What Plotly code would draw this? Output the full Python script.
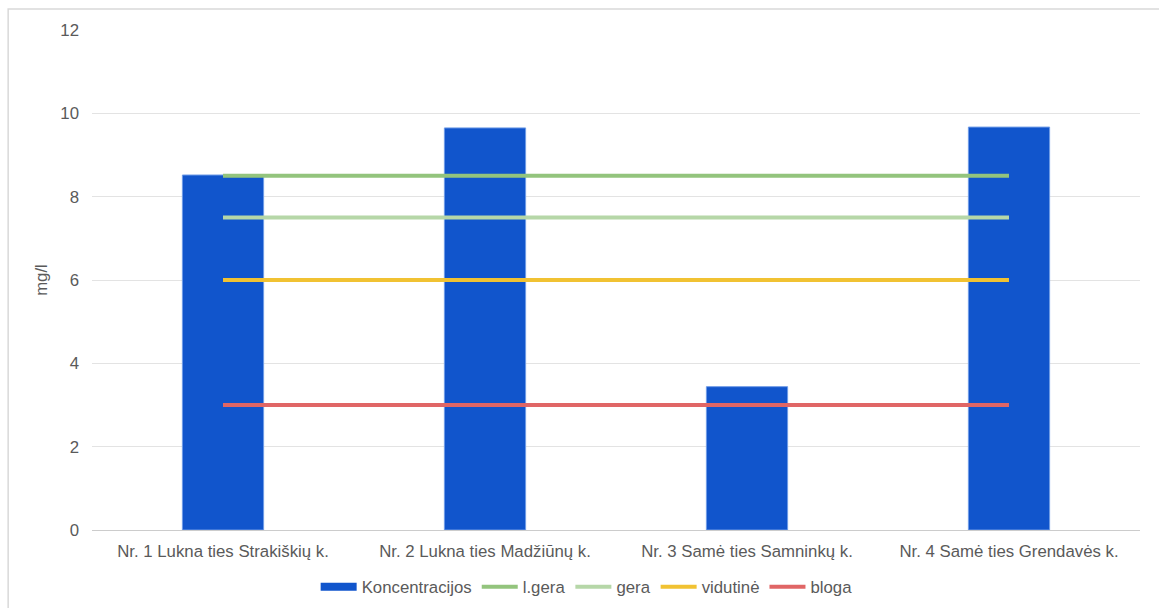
import plotly.graph_objects as go

# Monitoring points and measured concentrations (mg/l)
sites = [
    "Nr. 1 Lukna ties Strakiškių k.",
    "Nr. 2 Lukna ties Madžiūnų k.",
    "Nr. 3 Samė ties Samninkų k.",
    "Nr. 4 Samė ties Grendavės k.",
]
koncentracijos = [8.52, 9.65, 3.44, 9.67]

# Quality class thresholds (mg/l)
l_gera = [8.5, 8.5, 8.5, 8.5]
gera = [7.5, 7.5, 7.5, 7.5]
vidutine = [6, 6, 6, 6]
bloga = [3, 3, 3, 3]

font_family = "Liberation Sans, Arial, sans-serif"
text_color = "#5a5a5a"
fs = 16.8
bar_color = "#1155cc"

fig = go.Figure()
fig.add_trace(go.Bar(
    x=sites, y=koncentracijos, name="Koncentracijos",
    marker=dict(color=bar_color, line=dict(color="#6f9be6", width=1)),
    width=0.31, showlegend=False, legendgroup="k",
))
# wide rectangular legend key for the bar series
fig.add_trace(go.Scatter(
    x=[None], y=[None], name="Koncentracijos", mode="lines",
    line=dict(color=bar_color, width=8), legendgroup="k",
))

for name, vals, color in [
    ("l.gera", l_gera, "#93c47d"),
    ("gera", gera, "#b6d7a8"),
    ("vidutinė", vidutine, "#f1c232"),
    ("bloga", bloga, "#e06666"),
]:
    fig.add_trace(go.Scatter(
        x=sites, y=vals, name=name, mode="lines",
        line=dict(color=color, width=4),
    ))

fig.update_layout(
    width=1159, height=608,
    margin=dict(l=92, r=19, t=30, b=78),
    paper_bgcolor="white", plot_bgcolor="white",
    font=dict(family=font_family, size=fs, color=text_color),
    showlegend=True,
    legend=dict(
        orientation="h", x=0.472, xanchor="center",
        yref="container", y=0.035, yanchor="middle",
        font=dict(size=fs, color=text_color), itemwidth=36,
        bgcolor="rgba(0,0,0,0)", traceorder="normal",
    ),
    xaxis=dict(
        showgrid=False, showline=True, linecolor="#cccccc", linewidth=1,
        ticks="", tickfont=dict(size=fs, color=text_color),
        ticklabelstandoff=6, automargin=False,
    ),
    yaxis=dict(
        range=[0, 12], dtick=2, showgrid=True, gridcolor="#e3e3e3", gridwidth=1,
        zeroline=False, ticks="", tickfont=dict(size=fs, color=text_color),
        ticklabelstandoff=12, automargin=False,
        title=dict(text="mg/l", font=dict(size=fs, color=text_color), standoff=8),
    ),
    bargap=0.69,
    shapes=[dict(
        type="rect", xref="paper", yref="paper",
        x0=-0.080, x1=1.2, y0=-0.5, y1=1.042,
        line=dict(color="#d9d9d9", width=1.5), fillcolor="rgba(0,0,0,0)",
        layer="below",
    )],
)

fig.write_html("out.html")
